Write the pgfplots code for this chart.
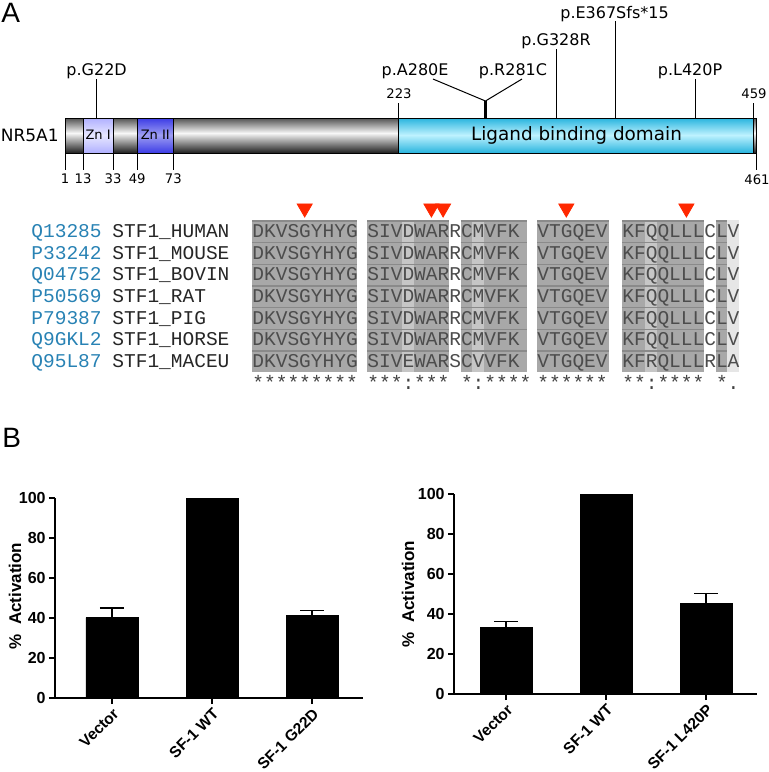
\documentclass[border=0pt]{standalone}
\usepackage{fontspec}
\setmainfont{Liberation Sans}
\newfontfamily\dv{DejaVu Sans}
\newfontfamily\mono{Liberation Mono}
\usepackage{pgfplots}
\pgfplotsset{compat=1.18}

\definecolor{lbdtop}{RGB}{40,180,222}
\definecolor{lbdmid}{RGB}{190,242,255}
\definecolor{zna}{RGB}{176,176,255}
\definecolor{znb}{RGB}{60,60,230}
\definecolor{uniprot}{RGB}{40,130,180}
\definecolor{alngray}{RGB}{168,168,168}
\definecolor{alndark}{RGB}{138,138,138}
\definecolor{alnlight}{RGB}{198,198,198}
\definecolor{alnpale}{RGB}{230,230,230}
\definecolor{mutred}{RGB}{255,40,0}

\pgfplotsset{
  colormap={gbody}{color=(black!68) color=(black!3) color=(black!88)},
  colormap={gzna}{color=(zna) color=(zna!30) color=(zna)},
  colormap={gznb}{color=(znb) color=(znb!50) color=(znb)},
  colormap={glbd}{color=(lbdtop) color=(lbdmid) color=(lbdtop)},
}

% one pixel of the reference = 0.5pt, y counted downwards
\pgfplotsset{
  pixelframe/.style={scale only axis, height=386pt, ymin=0, ymax=772,
    y dir=reverse, hide axis, clip=false, anchor=north west},
  domain/.style={surf, shader=interp, point meta=explicit, mesh/cols=2},
  barchart/.style={scale only axis, height=100pt, anchor=south west,
    ymin=0, ymax=100, ytick={0,20,...,100},
    axis x line=bottom, axis y line=left,
    axis line style={-, line width=0.7pt},
    tick style={line width=0.7pt, black}, major tick length=3pt, tick align=outside,
    xtick={0,1,2},
    xticklabel style={rotate=45, anchor=north east, inner sep=1pt,
      font=\bfseries\fontsize{7.8}{9}\selectfont},
    yticklabel style={font=\bfseries\fontsize{8}{9}\selectfont, inner sep=1.5pt},
    /pgf/number format/assume math mode=true,
    ylabel={\%~~Activation},
    ybar, bar width=0.52,
    error bars/error bar style={line width=0.8pt},
    error bars/error mark options={rotate=90, mark size=6pt, line width=0.8pt},
  },
}
\tikzset{
  aln/.style={anchor=base west, inner sep=0pt, text=black!70,
    font=\mono\fontsize{9.75}{11}\selectfont},
  num/.style={anchor=base, inner sep=0pt, font=\dv\fontsize{6.6}{8}\selectfont},
  mut/.style={anchor=base, inner sep=0pt, font=\dv\fontsize{8}{9.6}\selectfont},
}

\newcommand\alnrow[7]{%
  \node[aln, text=uniprot] at (axis cs:31,#1) {#2};
  \node[aln, text=black!85] at (axis cs:112,#1) {#3};
  \node[aln] at (axis cs:252,#1) {#4};
  \node[aln] at (axis cs:367,#1) {#5};
  \node[aln] at (axis cs:537,#1) {#6};
  \node[aln] at (axis cs:622,#1) {#7};
}

\begin{document}
\begin{tikzpicture}

% panel letters and alignment, in pixel coordinates
\begin{axis}[pixelframe, at={(0pt,0pt)}, width=384pt, xmin=0, xmax=768]
\node[anchor=base west, inner sep=0pt, font=\fontsize{14}{16}\selectfont] at (axis cs:1,22) {A};
\node[anchor=base west, inner sep=0pt, font=\fontsize{14}{16}\selectfont] at (axis cs:2,447) {B};

% shaded columns
\fill[alngray] (axis cs:252,220) rectangle (axis cs:357,372);
\fill[alngray] (axis cs:367,220) rectangle (axis cs:449,372);
\fill[alngray] (axis cs:460.6,220) rectangle (axis cs:527,372);
\fill[alngray] (axis cs:537,220) rectangle (axis cs:609,372);
\fill[alngray] (axis cs:622,220) rectangle (axis cs:703.9,372);
\fill[alngray] (axis cs:715.6,220) rectangle (axis cs:727.3,372);
\fill[alnlight] (axis cs:402.1,220) rectangle (axis cs:413.8,372);
\fill[alnlight] (axis cs:472.3,220) rectangle (axis cs:484,372);
\fill[alnlight] (axis cs:645.4,220) rectangle (axis cs:657.1,372);
\fill[alnpale] (axis cs:727.3,220) rectangle (axis cs:739,372);
\pgfplotsinvokeforeach{0,...,6}{
  \draw[alndark, line width=0.7pt] (axis cs:252,{220.8+21.7*#1}) -- (axis cs:357,{220.8+21.7*#1});
  \draw[alndark, line width=0.7pt] (axis cs:367,{220.8+21.7*#1}) -- (axis cs:449,{220.8+21.7*#1});
  \draw[alndark, line width=0.7pt] (axis cs:460.6,{220.8+21.7*#1}) -- (axis cs:527,{220.8+21.7*#1});
  \draw[alndark, line width=0.7pt] (axis cs:537,{220.8+21.7*#1}) -- (axis cs:609,{220.8+21.7*#1});
  \draw[alndark, line width=0.7pt] (axis cs:622,{220.8+21.7*#1}) -- (axis cs:703.9,{220.8+21.7*#1});
  \draw[alndark, line width=0.7pt] (axis cs:715.6,{220.8+21.7*#1}) -- (axis cs:727.3,{220.8+21.7*#1});
}

\alnrow{237.4}{Q13285}{STF1\_HUMAN}{DKVSGYHYG}{SIVDWARRCMVFK}{VTGQEV}{KFQQLLLCLV}
\alnrow{259.1}{P33242}{STF1\_MOUSE}{DKVSGYHYG}{SIVDWARRCMVFK}{VTGQEV}{KFQQLLLCLV}
\alnrow{280.8}{Q04752}{STF1\_BOVIN}{DKVSGYHYG}{SIVDWARRCMVFK}{VTGQEV}{KFQQLLLCLV}
\alnrow{302.5}{P50569}{STF1\_RAT}{DKVSGYHYG}{SIVDWARRCMVFK}{VTGQEV}{KFQQLLLCLV}
\alnrow{324.2}{P79387}{STF1\_PIG}{DKVSGYHYG}{SIVDWARRCMVFK}{VTGQEV}{KFQQLLLCLV}
\alnrow{345.9}{Q9GKL2}{STF1\_HORSE}{DKVSGYHYG}{SIVDWARRCMVFK}{VTGQEV}{KFQQLLLCLV}
\alnrow{367.6}{Q95L87}{STF1\_MACEU}{DKVSGYHYG}{SIVEWARSCVVFK}{VTGQEV}{KFRQLLLRLA}

% conservation line
\node[aln, text=black!75] at (axis cs:252,389) {*********};
\node[aln, text=black!75] at (axis cs:367,389) {***:***};
\node[aln, text=black!75] at (axis cs:460.6,389) {*:****};
\node[aln, text=black!75] at (axis cs:537,389) {******};
\node[aln, text=black!75] at (axis cs:622,389) {**:****};
\node[aln, text=black!75] at (axis cs:715.6,389) {*.};

% mutated positions
\addplot[only marks, mark=triangle*, mark size=4.35pt,
  mark options={rotate=180, fill=mutred, draw=mutred}]
  coordinates {(304.7,208.3) (431.4,208.3) (443.1,208.3) (566.3,208.3) (686.4,208.3)};
\end{axis}

% protein map, x in residues
\begin{axis}[pixelframe, at={(32.5pt,0pt)}, width=346pt, xmin=1, xmax=461,
  point meta min=0, point meta max=2]
\addplot[domain, colormap name=gbody] coordinates {
  (1,118) [0] (461,118) [0] (1,133) [1] (461,133) [1] (1,153) [2] (461,153) [2]};
\addplot[domain, colormap name=gzna] coordinates {
  (13,118) [0] (33,118) [0] (13,135) [1] (33,135) [1] (13,153) [2] (33,153) [2]};
\addplot[domain, colormap name=gznb] coordinates {
  (49,118) [0] (73,118) [0] (49,135) [1] (73,135) [1] (49,153) [2] (73,153) [2]};
\addplot[domain, colormap name=glbd] coordinates {
  (223,118) [0] (459,118) [0] (223,135) [1] (459,135) [1] (223,153) [2] (459,153) [2]};
\draw[line width=0.5pt] (axis cs:1,118) rectangle (axis cs:461,153);
\draw[line width=0.5pt] (axis cs:13,118) -- (axis cs:13,153);
\draw[line width=0.5pt] (axis cs:33,118) -- (axis cs:33,153);
\draw[line width=0.5pt] (axis cs:49,118) -- (axis cs:49,153);
\draw[line width=0.5pt] (axis cs:73,118) -- (axis cs:73,153);
\draw[line width=0.5pt] (axis cs:223,103) -- (axis cs:223,153);
\draw[line width=0.5pt] (axis cs:459,103) -- (axis cs:459,153);

\node[anchor=center, inner sep=0pt, font=\dv\fontsize{6.5}{8}\selectfont] at (axis cs:23,135) {Zn I};
\node[anchor=center, inner sep=0pt, font=\dv\fontsize{6.5}{8}\selectfont] at (axis cs:61,135) {Zn II};
\node[anchor=center, inner sep=0pt, font=\dv\fontsize{9.2}{11}\selectfont] at (axis cs:341,135) {Ligand binding domain};
\node[anchor=east, inner sep=0pt, font=\dv\fontsize{8.5}{10}\selectfont] at (axis cs:-3,135) {NR5A1};

% residue numbers
\draw[line width=0.5pt] (axis cs:1,153) -- (axis cs:1,170);
\draw[line width=0.5pt] (axis cs:13,153) -- (axis cs:13,170);
\draw[line width=0.5pt] (axis cs:33,153) -- (axis cs:33,170);
\draw[line width=0.5pt] (axis cs:49,153) -- (axis cs:49,170);
\draw[line width=0.5pt] (axis cs:73,153) -- (axis cs:73,170);
\draw[line width=0.5pt] (axis cs:461,153) -- (axis cs:461,170);
\node[num] at (axis cs:1,183) {1};
\node[num] at (axis cs:13,183) {13};
\node[num] at (axis cs:33,183) {33};
\node[num] at (axis cs:49,183) {49};
\node[num] at (axis cs:73,183) {73};
\node[num] at (axis cs:461,184) {461};
\node[num] at (axis cs:223,98) {223};
\node[num] at (axis cs:459,98) {459};

% variants
\draw[line width=0.5pt] (axis cs:22,79) -- (axis cs:22,118);
\node[mut] at (axis cs:22,75) {p.G22D};
\draw[line width=1.3pt] (axis cs:280.5,101) -- (axis cs:280.5,118);
\draw[line width=0.5pt] (axis cs:245.6,79) -- (axis cs:280.5,101) -- (axis cs:304.8,79);
\node[mut] at (axis cs:233.7,75) {p.A280E};
\node[mut] at (axis cs:298.8,75) {p.R281C};
\draw[line width=0.5pt] (axis cs:328,49) -- (axis cs:328,118);
\node[mut] at (axis cs:327.4,45) {p.G328R};
\draw[line width=0.5pt] (axis cs:367,21) -- (axis cs:367,118);
\node[mut] at (axis cs:366.3,18) {p.E367Sfs*15};
\draw[line width=0.5pt] (axis cs:420,79) -- (axis cs:420,118);
\node[mut] at (axis cs:416.5,75) {p.L420P};
\end{axis}

% B left
\begin{axis}[barchart, at={(27.5pt,-349pt)}, width=154pt, xmin=-0.57, xmax=2.51,
  xticklabels={Vector, SF-1 WT, SF-1 G22D},
  ylabel style={at={(axis description cs:-0.13,0.51)}, anchor=center,
    font=\bfseries\fontsize{8.5}{10}\selectfont}]
\addplot[fill=black, draw=black, error bars/.cd, y dir=plus, y explicit]
  coordinates {(0,40.2) +- (0,4.8) (1,100) +- (0,0) (2,41.4) +- (0,2.4)};
\end{axis}

% B right
\begin{axis}[barchart, at={(227pt,-347pt)}, width=151.5pt, xmin=-0.52, xmax=2.51,
  xticklabels={Vector, SF-1 WT, SF-1 L420P},
  ylabel style={at={(axis description cs:-0.152,0.5)}, anchor=center,
    font=\bfseries\fontsize{8.5}{10}\selectfont}]
\addplot[fill=black, draw=black, error bars/.cd, y dir=plus, y explicit]
  coordinates {(0,33.4) +- (0,2.8) (1,100) +- (0,0) (2,45.2) +- (0,5.0)};
\end{axis}

% page = the reference frame
\pgfresetboundingbox
\path[use as bounding box] (0pt,0pt) rectangle (384pt,-386pt);
\end{tikzpicture}
\end{document}
